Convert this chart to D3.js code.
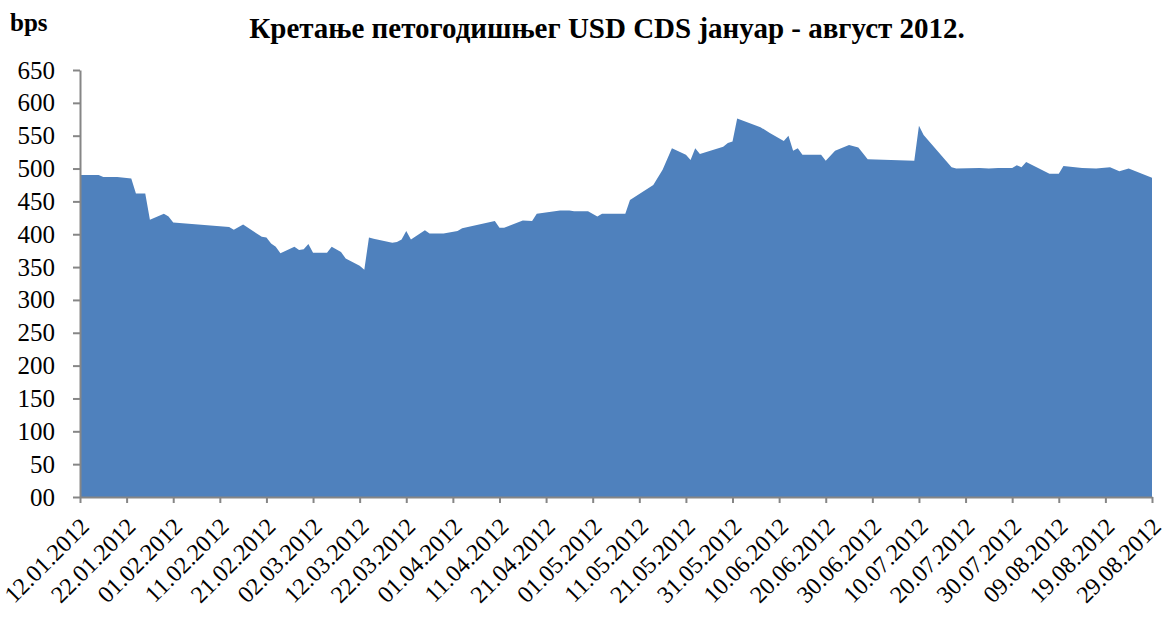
<!DOCTYPE html>
<html>
<head>
<meta charset="utf-8">
<script src="https://cdn.jsdelivr.net/npm/d3@7"></script>
<style>
  body { margin: 0; background: #fff; }
  text { font-family: "Liberation Serif", "Times New Roman", serif; }
</style>
</head>
<body>
<svg id="chart"></svg>
<script>
const dates = [
  '12.01.2012', '16.01.2012', '17.01.2012', '19.01.2012', '20.01.2012', '23.01.2012',
  '24.01.2012', '26.01.2012', '27.01.2012', '30.01.2012', '31.01.2012', '01.02.2012',
  '13.02.2012', '14.02.2012', '16.02.2012', '20.02.2012', '21.02.2012', '22.02.2012',
  '23.02.2012', '24.02.2012', '27.02.2012', '28.02.2012', '29.02.2012', '01.03.2012',
  '02.03.2012', '05.03.2012', '06.03.2012', '08.03.2012', '09.03.2012', '12.03.2012',
  '13.03.2012', '14.03.2012', '15.03.2012', '19.03.2012', '20.03.2012', '21.03.2012',
  '22.03.2012', '23.03.2012', '26.03.2012', '27.03.2012', '30.03.2012', '02.04.2012',
  '03.04.2012', '10.04.2012', '11.04.2012', '12.04.2012', '16.04.2012', '18.04.2012',
  '19.04.2012', '24.04.2012', '26.04.2012', '27.04.2012', '30.04.2012', '02.05.2012',
  '03.05.2012', '08.05.2012', '09.05.2012', '14.05.2012', '16.05.2012', '18.05.2012',
  '21.05.2012', '22.05.2012', '23.05.2012', '24.05.2012', '29.05.2012', '30.05.2012',
  '31.05.2012', '01.06.2012', '06.06.2012', '08.06.2012', '11.06.2012', '12.06.2012',
  '13.06.2012', '14.06.2012', '15.06.2012', '19.06.2012', '20.06.2012', '22.06.2012',
  '25.06.2012', '27.06.2012', '29.06.2012', '09.07.2012', '10.07.2012', '11.07.2012',
  '17.07.2012', '18.07.2012', '23.07.2012', '25.07.2012', '27.07.2012', '30.07.2012',
  '31.07.2012', '01.08.2012', '02.08.2012', '07.08.2012', '09.08.2012', '10.08.2012',
  '14.08.2012', '17.08.2012', '20.08.2012', '22.08.2012', '24.08.2012', '29.08.2012'
];

const cds = [
  490, 490, 487, 487, 487, 485,
  462, 462, 422, 431, 427, 418,
  411, 407, 415, 396, 395, 386,
  381, 371, 381, 376, 377, 385,
  372, 372, 381, 373, 363, 352,
  346, 395, 393, 387, 388, 392,
  405, 392, 406, 401, 401, 405,
  409, 420, 410, 410, 421, 420,
  431, 436, 436, 435, 435, 427,
  431, 431, 452, 475, 498, 531,
  521, 513, 531, 522, 533, 539,
  541, 576, 563, 554, 542, 550,
  527, 531, 521, 521, 512, 527,
  536, 532, 514, 512, 565, 551,
  502, 500, 501, 500, 501, 501,
  505, 502, 510, 492, 492, 504,
  501, 500, 502, 496, 500, 486
];

const xTickLabels = [
  '12.01.2012', '22.01.2012', '01.02.2012', '11.02.2012', '21.02.2012', '02.03.2012',
  '12.03.2012', '22.03.2012', '01.04.2012', '11.04.2012', '21.04.2012', '01.05.2012',
  '11.05.2012', '21.05.2012', '31.05.2012', '10.06.2012', '20.06.2012', '30.06.2012',
  '10.07.2012', '20.07.2012', '30.07.2012', '09.08.2012', '19.08.2012', '29.08.2012'
];

const yTicks = [0, 50, 100, 150, 200, 250, 300, 350, 400, 450, 500, 550, 600, 650];
const yTickLabels = ['00', '50', '100', '150', '200', '250', '300', '350', '400', '450', '500', '550', '600', '650'];

const title = 'Кретање петогодишњег USD CDS јануар - август 2012.';
const unit = 'bps';

const WIDTH = 1165;
const HEIGHT = 617;
const LEFT = 80;
const RIGHT = 1152;
const TOP = 70;
const BOTTOM = 497;
const AXIS_COLOR = '#868686';

const parse = d3.timeParse('%d.%m.%Y');
const data = dates.map((d, i) => ({ date: parse(d), value: cds[i] }));
const tickDates = xTickLabels.map(parse);

const svg = d3.select('#chart').attr('width', WIDTH).attr('height', HEIGHT);

const x = d3.scaleTime()
  .domain([tickDates[0], tickDates[tickDates.length - 1]])
  .range([LEFT, RIGHT]);

const y = d3.scaleLinear().domain([0, 650]).range([BOTTOM, TOP]);

const area = d3.area()
  .x(d => x(d.date))
  .y0(y(0))
  .y1(d => y(d.value));

svg.append('path')
  .datum(data)
  .attr('fill', '#4F81BD')
  .attr('d', area);

// y axis
const yAxis = d3.axisLeft(y)
  .tickValues(yTicks)
  .tickFormat((d, i) => yTickLabels[i])
  .tickSize(7)
  .tickSizeOuter(0)
  .tickPadding(18);

const yAxisGroup = svg.append('g')
  .attr('transform', `translate(${LEFT}, 0)`)
  .call(yAxis);

// x axis
const xAxis = d3.axisBottom(x)
  .tickValues(tickDates)
  .tickFormat((d, i) => xTickLabels[i])
  .tickSize(6)
  .tickSizeOuter(0);

const xAxisGroup = svg.append('g')
  .attr('transform', `translate(0, ${BOTTOM})`)
  .call(xAxis);

for (const g of [yAxisGroup, xAxisGroup]) {
  g.select('.domain').attr('stroke', AXIS_COLOR).attr('stroke-width', 2);
  g.selectAll('.tick line').attr('stroke', AXIS_COLOR).attr('stroke-width', 2);
  g.selectAll('text')
    .attr('fill', '#000')
    .style('font-family', '"Liberation Serif", "Times New Roman", serif');
}

yAxisGroup.selectAll('text').style('font-size', '25px');

// rotated date labels
xAxisGroup.selectAll('text')
  .attr('x', 0)
  .attr('y', 0)
  .attr('dy', 0)
  .attr('text-anchor', 'end')
  .attr('transform', 'translate(10, 31) rotate(-45)')
  .style('font-size', '24px');

svg.append('text')
  .attr('x', 607)
  .attr('y', 38)
  .attr('text-anchor', 'middle')
  .style('font-size', '29px')
  .style('font-weight', 'bold')
  .text(title);

svg.append('text')
  .attr('x', 10)
  .attr('y', 31)
  .style('font-size', '25px')
  .style('font-weight', 'bold')
  .text(unit);
</script>
</body>
</html>
